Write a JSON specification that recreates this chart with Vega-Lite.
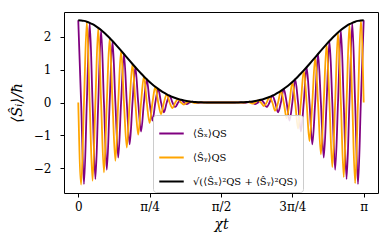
{
  "$schema": "https://vega.github.io/schema/vega-lite/v6.json",
  "width": 314,
  "height": 181,
  "autosize": {"type": "none"},
  "padding": {"left": 64, "top": 12, "right": 12, "bottom": 57},
  "background": "white",
  "config": {
    "view": {"stroke": "#000", "strokeWidth": 1},
    "axis": {
      "domain": false, "grid": false, "ticks": true, "tickColor": "#000", "tickWidth": 1, "tickSize": 4,
      "labelFont": "DejaVu Serif", "labelFontSize": 12, "labelColor": "#000",
      "titleFont": "DejaVu Serif", "titleFontSize": 14, "titleColor": "#000", "titleFontWeight": "normal"
    }
  },
  "data": {"values": [
    {"t":0.0000,"sx":2.5,"sy":0,"e":2.5},
    {"t":0.0314,"sx":0,"sy":-2.4951,"e":2.4951},
    {"t":0.0628,"sx":-2.4803,"sy":0,"e":2.4803},
    {"t":0.0942,"sx":0,"sy":2.4559,"e":2.4559},
    {"t":0.1257,"sx":2.4221,"sy":0,"e":2.4221},
    {"t":0.1571,"sx":0,"sy":-2.3791,"e":2.3791},
    {"t":0.1885,"sx":-2.3275,"sy":0,"e":2.3275},
    {"t":0.2199,"sx":0,"sy":2.2677,"e":2.2677},
    {"t":0.2513,"sx":2.2003,"sy":0,"e":2.2003},
    {"t":0.2827,"sx":0,"sy":-2.1260,"e":2.1260},
    {"t":0.3142,"sx":-2.0453,"sy":0,"e":2.0453},
    {"t":0.3456,"sx":0,"sy":1.9592,"e":1.9592},
    {"t":0.3770,"sx":1.8683,"sy":0,"e":1.8683},
    {"t":0.4084,"sx":0,"sy":-1.7736,"e":1.7736},
    {"t":0.4398,"sx":-1.6757,"sy":0,"e":1.6757},
    {"t":0.4712,"sx":0,"sy":1.5757,"e":1.5757},
    {"t":0.5027,"sx":1.4742,"sy":0,"e":1.4742},
    {"t":0.5341,"sx":0,"sy":-1.3722,"e":1.3722},
    {"t":0.5655,"sx":-1.2705,"sy":0,"e":1.2705},
    {"t":0.5969,"sx":0,"sy":1.1699,"e":1.1699},
    {"t":0.6283,"sx":1.0710,"sy":0,"e":1.0710},
    {"t":0.6597,"sx":0,"sy":-0.9745,"e":0.9745},
    {"t":0.6912,"sx":-0.8812,"sy":0,"e":0.8812},
    {"t":0.7226,"sx":0,"sy":0.7915,"e":0.7915},
    {"t":0.7540,"sx":0.7060,"sy":0,"e":0.7060},
    {"t":0.7854,"sx":0,"sy":-0.625,"e":0.625},
    {"t":0.8168,"sx":-0.5490,"sy":0,"e":0.5490},
    {"t":0.8482,"sx":0,"sy":0.4781,"e":0.4781},
    {"t":0.8796,"sx":0.4127,"sy":0,"e":0.4127},
    {"t":0.9111,"sx":0,"sy":-0.3528,"e":0.3528},
    {"t":0.9425,"sx":-0.2984,"sy":0,"e":0.2984},
    {"t":0.9739,"sx":0,"sy":0.2495,"e":0.2495},
    {"t":1.0053,"sx":0.2061,"sy":0,"e":0.2061},
    {"t":1.0367,"sx":0,"sy":-0.1679,"e":0.1679},
    {"t":1.0681,"sx":-0.1347,"sy":0,"e":0.1347},
    {"t":1.0996,"sx":0,"sy":0.1062,"e":0.1062},
    {"t":1.1310,"sx":0.0822,"sy":0,"e":0.0822},
    {"t":1.1624,"sx":0,"sy":-0.0622,"e":0.0622},
    {"t":1.1938,"sx":-0.0459,"sy":0,"e":0.0459},
    {"t":1.2252,"sx":0,"sy":0.0329,"e":0.0329},
    {"t":1.2566,"sx":0.0228,"sy":0,"e":0.0228},
    {"t":1.2881,"sx":0,"sy":-0.0151,"e":0.0151},
    {"t":1.3195,"sx":-0.0096,"sy":0,"e":0.0096},
    {"t":1.3509,"sx":0,"sy":0.0057,"e":0.0057},
    {"t":1.3823,"sx":0.0031,"sy":0,"e":0.0031},
    {"t":1.4137,"sx":0,"sy":-0.0015,"e":0.0015},
    {"t":1.4451,"sx":-0.0006,"sy":0,"e":0.0006},
    {"t":1.4765,"sx":0,"sy":0.0002,"e":0.0002},
    {"t":1.5080,"sx":0,"sy":0,"e":0},
    {"t":1.5394,"sx":0,"sy":0,"e":0},
    {"t":1.5708,"sx":0,"sy":0,"e":0},
    {"t":1.6022,"sx":0,"sy":0,"e":0},
    {"t":1.6336,"sx":0,"sy":0,"e":0},
    {"t":1.6650,"sx":0,"sy":-0.0002,"e":0.0002},
    {"t":1.6965,"sx":-0.0006,"sy":0,"e":0.0006},
    {"t":1.7279,"sx":0,"sy":0.0015,"e":0.0015},
    {"t":1.7593,"sx":0.0031,"sy":0,"e":0.0031},
    {"t":1.7907,"sx":0,"sy":-0.0057,"e":0.0057},
    {"t":1.8221,"sx":-0.0096,"sy":0,"e":0.0096},
    {"t":1.8535,"sx":0,"sy":0.0151,"e":0.0151},
    {"t":1.8850,"sx":0.0228,"sy":0,"e":0.0228},
    {"t":1.9164,"sx":0,"sy":-0.0329,"e":0.0329},
    {"t":1.9478,"sx":-0.0459,"sy":0,"e":0.0459},
    {"t":1.9792,"sx":0,"sy":0.0622,"e":0.0622},
    {"t":2.0106,"sx":0.0822,"sy":0,"e":0.0822},
    {"t":2.0420,"sx":0,"sy":-0.1062,"e":0.1062},
    {"t":2.0735,"sx":-0.1347,"sy":0,"e":0.1347},
    {"t":2.1049,"sx":0,"sy":0.1679,"e":0.1679},
    {"t":2.1363,"sx":0.2061,"sy":0,"e":0.2061},
    {"t":2.1677,"sx":0,"sy":-0.2495,"e":0.2495},
    {"t":2.1991,"sx":-0.2984,"sy":0,"e":0.2984},
    {"t":2.2305,"sx":0,"sy":0.3528,"e":0.3528},
    {"t":2.2619,"sx":0.4127,"sy":0,"e":0.4127},
    {"t":2.2934,"sx":0,"sy":-0.4781,"e":0.4781},
    {"t":2.3248,"sx":-0.5490,"sy":0,"e":0.5490},
    {"t":2.3562,"sx":0,"sy":0.625,"e":0.625},
    {"t":2.3876,"sx":0.7060,"sy":0,"e":0.7060},
    {"t":2.4190,"sx":0,"sy":-0.7915,"e":0.7915},
    {"t":2.4504,"sx":-0.8812,"sy":0,"e":0.8812},
    {"t":2.4819,"sx":0,"sy":0.9745,"e":0.9745},
    {"t":2.5133,"sx":1.0710,"sy":0,"e":1.0710},
    {"t":2.5447,"sx":0,"sy":-1.1699,"e":1.1699},
    {"t":2.5761,"sx":-1.2705,"sy":0,"e":1.2705},
    {"t":2.6075,"sx":0,"sy":1.3722,"e":1.3722},
    {"t":2.6389,"sx":1.4742,"sy":0,"e":1.4742},
    {"t":2.6704,"sx":0,"sy":-1.5757,"e":1.5757},
    {"t":2.7018,"sx":-1.6757,"sy":0,"e":1.6757},
    {"t":2.7332,"sx":0,"sy":1.7736,"e":1.7736},
    {"t":2.7646,"sx":1.8683,"sy":0,"e":1.8683},
    {"t":2.7960,"sx":0,"sy":-1.9592,"e":1.9592},
    {"t":2.8274,"sx":-2.0453,"sy":0,"e":2.0453},
    {"t":2.8588,"sx":0,"sy":2.1260,"e":2.1260},
    {"t":2.8903,"sx":2.2003,"sy":0,"e":2.2003},
    {"t":2.9217,"sx":0,"sy":-2.2677,"e":2.2677},
    {"t":2.9531,"sx":-2.3275,"sy":0,"e":2.3275},
    {"t":2.9845,"sx":0,"sy":2.3791,"e":2.3791},
    {"t":3.0159,"sx":2.4221,"sy":0,"e":2.4221},
    {"t":3.0473,"sx":0,"sy":-2.4559,"e":2.4559},
    {"t":3.0788,"sx":-2.4803,"sy":0,"e":2.4803},
    {"t":3.1102,"sx":0,"sy":2.4951,"e":2.4951},
    {"t":3.1416,"sx":2.5,"sy":0,"e":2.5}
  ]},
  "encoding": {
    "x": {
      "field": "t", "type": "quantitative",
      "scale": {"domain": [-0.157, 3.299], "nice": false, "zero": false},
      "axis": {
        "title": "χt", "titleFontStyle": "italic", "titlePadding": 5,
        "values": [0, 0.7854, 1.5708, 2.3562, 3.1416],
        "labelExpr": "['0','π/4','π/2','3π/4','π'][round(datum.value/0.7854)]",
        "labelPadding": 4
      }
    },
    "color": {
      "type": "nominal",
      "scale": {
        "domain": ["⟨Ŝₓ⟩QS", "⟨Ŝᵧ⟩QS", "√(⟨Ŝₓ⟩²QS + ⟨Ŝᵧ⟩²QS)"],
        "range": ["#800080", "#FFA500", "#000000"]
      },
      "legend": {
        "orient": "none", "legendX": 89, "legendY": 103, "title": null,
        "fillColor": "rgba(255,255,255,0.85)", "strokeColor": "#cccccc", "cornerRadius": 3,
        "padding": 5, "symbolType": "stroke", "symbolSize": 600, "symbolStrokeWidth": 2,
        "labelFont": "DejaVu Serif", "labelFontSize": 10, "labelColor": "#000", "rowPadding": 5, "labelOffset": 8
      }
    }
  },
  "layer": [
    {
      "mark": {"type": "line", "interpolate": "monotone", "strokeWidth": 1.8},
      "encoding": {
        "y": {
          "field": "sx", "type": "quantitative",
          "scale": {"domain": [-2.75, 2.75], "nice": false, "zero": false},
          "axis": {"title": "⟨Ŝᵢ⟩/ħ", "titleFontStyle": "italic", "titleFontSize": 15, "values": [-2, -1, 0, 1, 2], "labelPadding": 9, "titlePadding": 9}
        },
        "color": {"datum": "⟨Ŝₓ⟩QS"}
      }
    },
    {
      "mark": {"type": "line", "interpolate": "monotone", "strokeWidth": 1.8},
      "encoding": {
        "y": {"field": "sy", "type": "quantitative"},
        "color": {"datum": "⟨Ŝᵧ⟩QS"}
      }
    },
    {
      "mark": {"type": "line", "interpolate": "monotone", "strokeWidth": 2},
      "encoding": {
        "y": {"field": "e", "type": "quantitative"},
        "color": {"datum": "√(⟨Ŝₓ⟩²QS + ⟨Ŝᵧ⟩²QS)"}
      }
    }
  ]
}
